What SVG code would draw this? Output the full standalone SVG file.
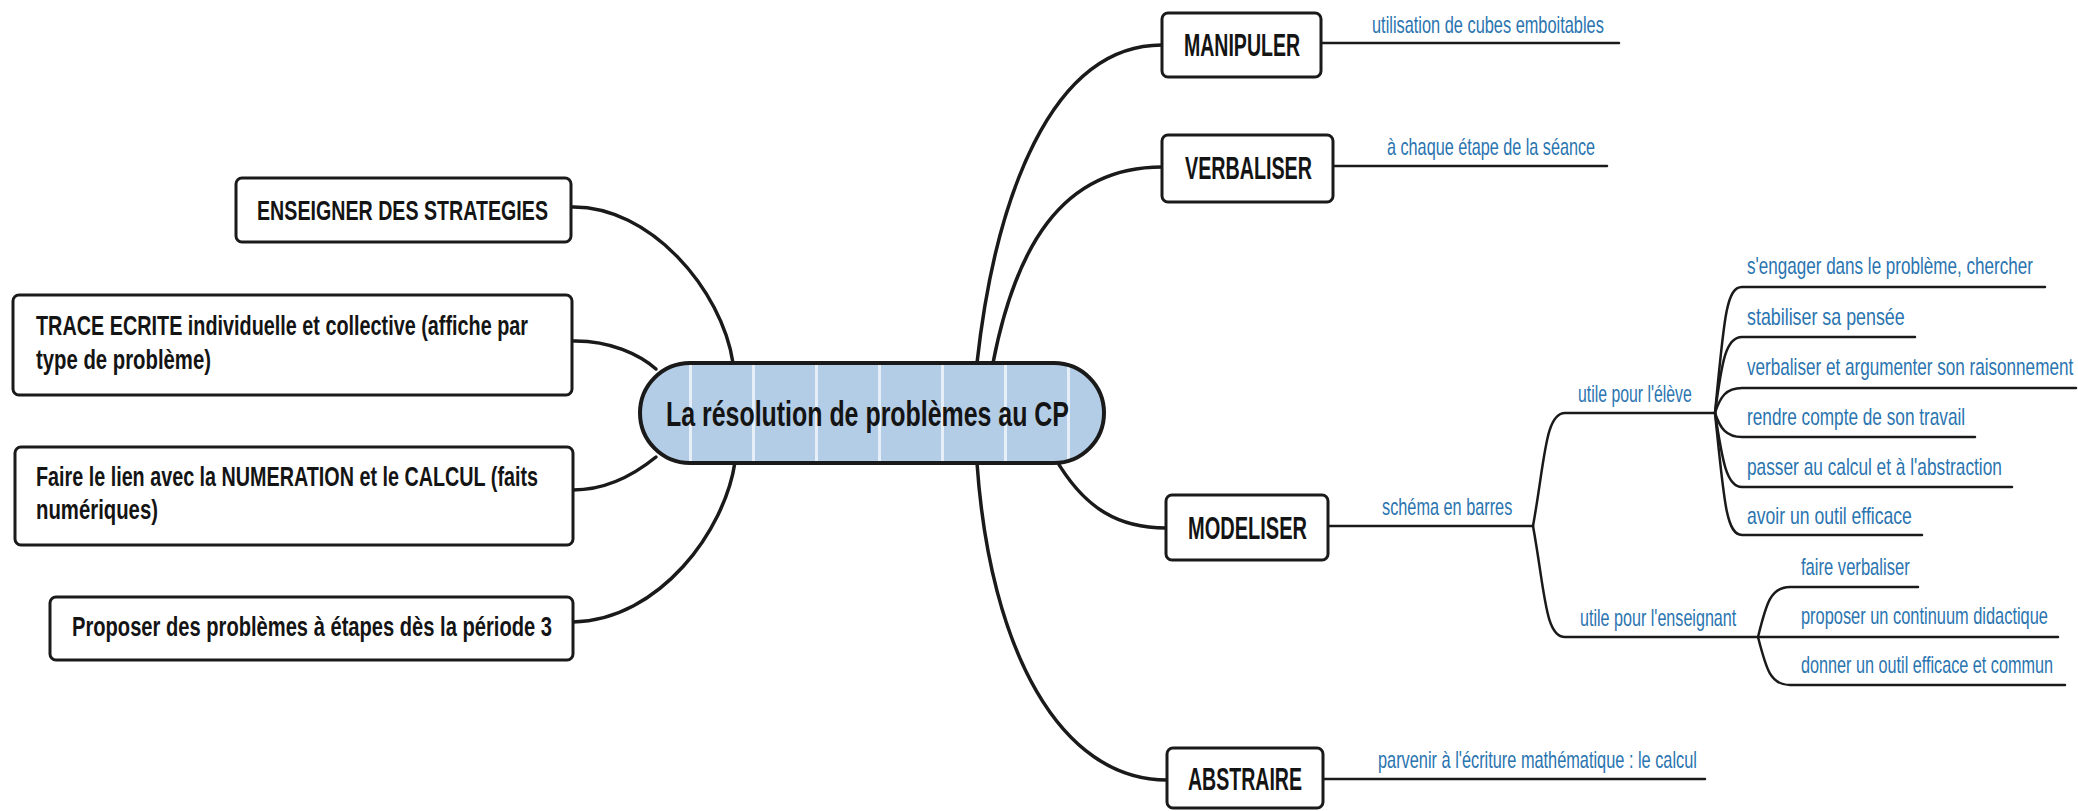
<svg xmlns="http://www.w3.org/2000/svg" width="2078" height="811" viewBox="0 0 2078 811">
<style>
.box{fill:#fff;stroke:#1a1a1a;stroke-width:3}
.bt{font-family:"Liberation Sans Narrow","Liberation Sans",Arial,sans-serif;font-weight:bold;fill:#141414}
.lt{font-size:28px}
.rt{font-size:31px}
.blue{font-family:"Liberation Sans",Arial,sans-serif;font-size:23px;fill:#2a74b0}
.con{fill:none;stroke:#1a1a1a;stroke-width:3.5;stroke-linecap:round}
.sub{fill:none;stroke:#1a1a1a;stroke-width:2.5;stroke-linecap:round}
</style>
<defs>
<pattern id="stripes" x="626" y="0" width="63" height="811" patternUnits="userSpaceOnUse">
<rect x="0" y="0" width="63" height="811" fill="#b4cde6"/>
<rect x="0" y="0" width="3" height="811" fill="#e6eff8"/>
</pattern>
</defs>
<rect width="2078" height="811" fill="#fff"/>

<g id="connectors">
<path class="con" d="M571 207 C650 205 722 290 733 363"/>
<path class="con" d="M572 341 C610 340 640 355 656 369"/>
<path class="con" d="M573 490 C610 490 640 470 656 457"/>
<path class="con" d="M573 622 C660 620 725 530 735 462"/>
<path class="con" d="M977 363 C995 200 1050 45 1162 45"/>
<path class="con" d="M993 363 C1015 250 1060 167 1162 167"/>
<path class="con" d="M1055 458 C1085 510 1120 528 1166 528"/>
<path class="con" d="M977 463 C990 650 1060 780 1167 780"/>
<path class="sub" d="M1321 43 L1619 43"/>
<path class="sub" d="M1332 166 L1607 166"/>
<path class="sub" d="M1328 526 L1533 526"/>
<path class="sub" d="M1323 779 L1705 779"/>
<path class="sub" d="M1533 526 C1545 460 1545 413 1565 413 L1715 413"/>
<path class="sub" d="M1533 526 C1545 592 1545 637 1565 637 L1758 637"/>
<path class="sub" d="M1715 413 C1724 320 1726 287 1742 287 L2045 287"/>
<path class="sub" d="M1715 413 C1722 360 1726 337 1742 337 L1915 337"/>
<path class="sub" d="M1715 413 C1720 397 1726 388 1742 388 L2076 388"/>
<path class="sub" d="M1715 413 C1720 428 1726 437 1742 437 L1975 437"/>
<path class="sub" d="M1715 413 C1722 458 1726 487 1742 487 L2012 487"/>
<path class="sub" d="M1715 413 C1724 500 1726 535 1742 535 L1922 535"/>
<path class="sub" d="M1758 637 C1766 605 1770 587 1790 587 L1918 587"/>
<path class="sub" d="M1758 637 L2058 637"/>
<path class="sub" d="M1758 637 C1766 668 1770 685 1790 685 L2065 685"/>
</g>

<g id="center">
<rect x="640" y="363" width="464" height="100" rx="50" ry="50" fill="url(#stripes)" stroke="#1a1a1a" stroke-width="4"/>
<text class="bt" x="666" y="426" font-size="35" textLength="403" lengthAdjust="spacingAndGlyphs">La résolution de problèmes au CP</text>
</g>

<g id="n-enseigner">
<rect class="box" x="236" y="178" width="335" height="64" rx="6"/>
<text class="bt lt" x="257" y="220" textLength="291" lengthAdjust="spacingAndGlyphs">ENSEIGNER DES STRATEGIES</text>
</g>
<g id="n-trace">
<rect class="box" x="13" y="295" width="559" height="100" rx="6"/>
<text class="bt lt" x="36" y="335" textLength="492" lengthAdjust="spacingAndGlyphs">TRACE ECRITE individuelle et collective (affiche par</text>
<text class="bt lt" x="36" y="369" textLength="175" lengthAdjust="spacingAndGlyphs">type de problème)</text>
</g>
<g id="n-lien">
<rect class="box" x="15" y="447" width="558" height="98" rx="6"/>
<text class="bt lt" x="36" y="486" textLength="502" lengthAdjust="spacingAndGlyphs">Faire le lien avec la NUMERATION et le CALCUL (faits</text>
<text class="bt lt" x="36" y="519" textLength="122" lengthAdjust="spacingAndGlyphs">numériques)</text>
</g>
<g id="n-proposer">
<rect class="box" x="50" y="597" width="523" height="63" rx="6"/>
<text class="bt lt" x="72" y="636" textLength="480" lengthAdjust="spacingAndGlyphs">Proposer des problèmes à étapes dès la période 3</text>
</g>

<g id="n-manipuler">
<rect class="box" x="1162" y="13" width="159" height="64" rx="6"/>
<text class="bt rt" x="1184" y="56" textLength="116" lengthAdjust="spacingAndGlyphs">MANIPULER</text>
</g>
<g id="n-verbaliser">
<rect class="box" x="1162" y="135" width="171" height="67" rx="6"/>
<text class="bt rt" x="1185" y="179" textLength="127" lengthAdjust="spacingAndGlyphs">VERBALISER</text>
</g>
<g id="n-modeliser">
<rect class="box" x="1166" y="495" width="162" height="65" rx="6"/>
<text class="bt rt" x="1188" y="539" textLength="119" lengthAdjust="spacingAndGlyphs">MODELISER</text>
</g>
<g id="n-abstraire">
<rect class="box" x="1167" y="748" width="156" height="60" rx="6"/>
<text class="bt rt" x="1188" y="790" textLength="114" lengthAdjust="spacingAndGlyphs">ABSTRAIRE</text>
</g>

<g id="labels">
<text class="blue" transform="translate(1372 33) scale(0.72 1)" textLength="322" lengthAdjust="spacingAndGlyphs">utilisation de cubes emboitables</text>
<text class="blue" transform="translate(1387 155) scale(0.72 1)" textLength="289" lengthAdjust="spacingAndGlyphs">à chaque étape de la séance</text>
<text class="blue" transform="translate(1382 515) scale(0.72 1)" textLength="181" lengthAdjust="spacingAndGlyphs">schéma en barres</text>
<text class="blue" transform="translate(1378 768) scale(0.72 1)" textLength="443" lengthAdjust="spacingAndGlyphs">parvenir à l'écriture mathématique : le calcul</text>
<text class="blue" transform="translate(1578 402) scale(0.72 1)" textLength="158" lengthAdjust="spacingAndGlyphs">utile pour l'élève</text>
<text class="blue" transform="translate(1580 626) scale(0.72 1)" textLength="217" lengthAdjust="spacingAndGlyphs">utile pour l'enseignant</text>
<text class="blue" transform="translate(1747 274) scale(0.72 1)" textLength="397" lengthAdjust="spacingAndGlyphs">s'engager dans le problème, chercher</text>
<text class="blue" transform="translate(1747 325) scale(0.72 1)" textLength="219" lengthAdjust="spacingAndGlyphs">stabiliser sa pensée</text>
<text class="blue" transform="translate(1747 375) scale(0.72 1)" textLength="453" lengthAdjust="spacingAndGlyphs">verbaliser et argumenter son raisonnement</text>
<text class="blue" transform="translate(1747 425) scale(0.72 1)" textLength="303" lengthAdjust="spacingAndGlyphs">rendre compte de son travail</text>
<text class="blue" transform="translate(1747 475) scale(0.72 1)" textLength="354" lengthAdjust="spacingAndGlyphs">passer au calcul et à l'abstraction</text>
<text class="blue" transform="translate(1747 524) scale(0.72 1)" textLength="229" lengthAdjust="spacingAndGlyphs">avoir un outil efficace</text>
<text class="blue" transform="translate(1801 575) scale(0.72 1)" textLength="151" lengthAdjust="spacingAndGlyphs">faire verbaliser</text>
<text class="blue" transform="translate(1801 624) scale(0.72 1)" textLength="343" lengthAdjust="spacingAndGlyphs">proposer un continuum didactique</text>
<text class="blue" transform="translate(1801 673) scale(0.72 1)" textLength="350" lengthAdjust="spacingAndGlyphs">donner un outil efficace et commun</text>
</g>
</svg>
